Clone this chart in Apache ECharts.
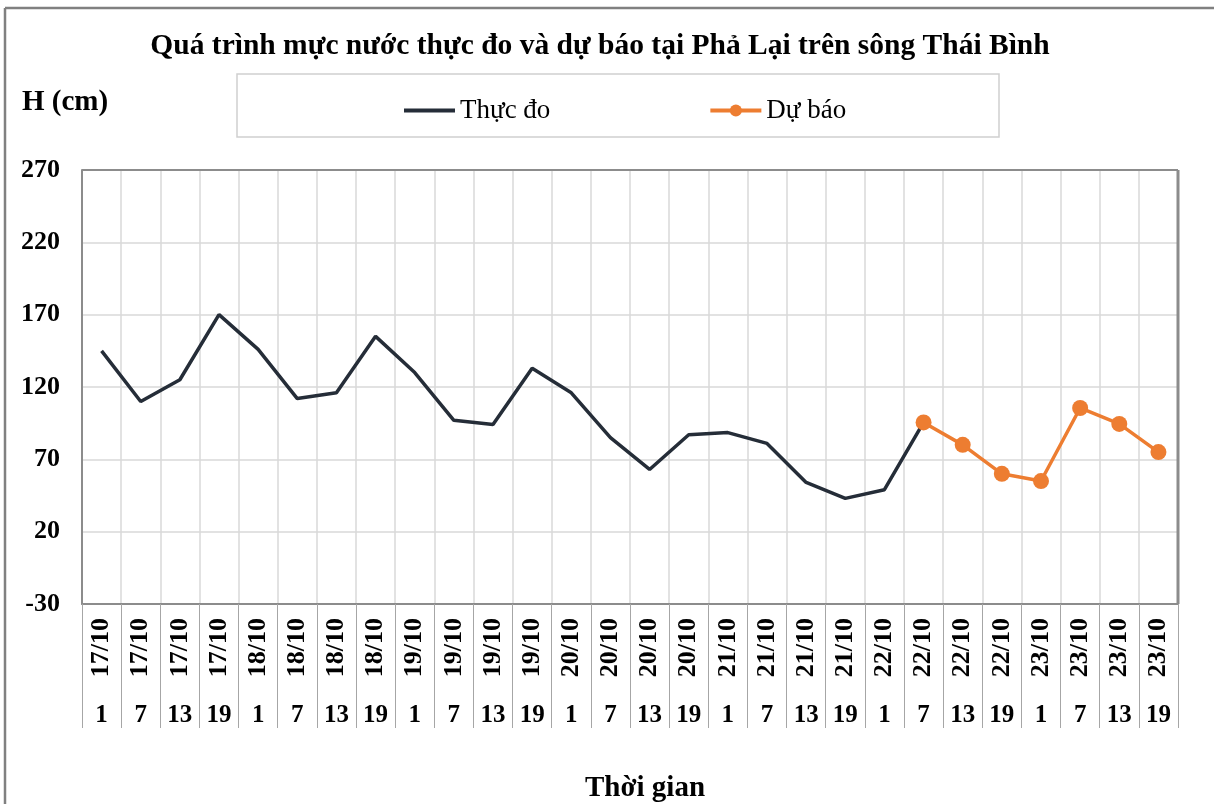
<!DOCTYPE html>
<html>
<head>
<meta charset="utf-8">
<script src="https://cdn.jsdelivr.net/npm/echarts@6/dist/echarts.min.js"></script>
<style>
html,body{margin:0;padding:0;background:#fff;}
#chart{width:1214px;height:804px;}
</style>
</head>
<body>
<div id="chart"></div>
<script>
var dates = ['17/10','17/10','17/10','17/10','18/10','18/10','18/10','18/10','19/10','19/10','19/10','19/10','20/10','20/10','20/10','20/10','21/10','21/10','21/10','21/10','22/10','22/10','22/10','22/10','23/10','23/10','23/10','23/10'];
var hours = ['1','7','13','19','1','7','13','19','1','7','13','19','1','7','13','19','1','7','13','19','1','7','13','19','1','7','13','19'];
var observed = [145,110,125,170,146,112,116,155,130,97,94,133,116,85,63,87,88.5,81,54,43,49,95.5];
var forecast = [null,null,null,null,null,null,null,null,null,null,null,null,null,null,null,null,null,null,null,null,null,95.5,80,60,55,105.5,94.5,75];
var yTicks = {min:-30, max:270, interval:50};
var titleText = 'Quá trình mực nước thực đo và dự báo tại Phả Lại trên sông Thái Bình';
var yName = 'H (cm)';
var xName = 'Thời gian';
var seriesNames = ['Thực đo','Dự báo'];

var FONT = '"Liberation Serif", "Times New Roman", serif';
var chart = echarts.init(document.getElementById('chart'));
var catKeys = dates.map(function(d,i){return i;});
chart.setOption({
  animation:false,
  backgroundColor:'#fff',
  grid:{left:82,right:36,top:170,bottom:200,containLabel:false},
  legend:{
    left:397, top:92,
    itemWidth:51, itemHeight:15, itemGap:158,
    textStyle:{fontFamily:FONT,fontSize:27,color:'#000'},
    lineStyle:{width:4},
    data:[{name:seriesNames[0],itemStyle:{opacity:0}},{name:seriesNames[1]}]
  },
  xAxis:[{
    type:'category', data:catKeys, boundaryGap:true,
    axisLine:{onZero:false,lineStyle:{color:'#8c8c8c',width:2}},
    axisTick:{show:true,interval:0,length:124,lineStyle:{color:'#a6a6a6',width:1}},
    splitLine:{show:true,interval:0,lineStyle:{color:'#d9d9d9',width:1.5}},
    axisLabel:{interval:0,rotate:90,margin:14,fontFamily:FONT,fontWeight:'bold',fontSize:26,color:'#000',
      formatter:function(v,i){return dates[i];}}
  },{
    type:'category', data:catKeys, boundaryGap:true, position:'bottom',
    axisLine:{show:false,onZero:false}, axisTick:{show:false}, splitLine:{show:false},
    axisLabel:{interval:0,margin:99,fontFamily:FONT,fontWeight:'bold',fontSize:25,color:'#000',
      formatter:function(v,i){return hours[i];}}
  }],
  yAxis:{
    type:'value', min:yTicks.min, max:yTicks.max, interval:yTicks.interval,
    axisLine:{show:true,lineStyle:{color:'#8c8c8c',width:2}},
    axisTick:{show:false},
    splitLine:{show:true,lineStyle:{color:'#d9d9d9',width:1.5}},
    axisLabel:{margin:22,fontFamily:FONT,fontWeight:'bold',fontSize:26,color:'#000'}
  },
  series:[{
    name:seriesNames[0], type:'line', data:observed, xAxisIndex:0,
    symbol:'none', showSymbol:false,
    lineStyle:{color:'#252d38',width:3.5}, itemStyle:{color:'#252d38'}
  },{
    name:seriesNames[1], type:'line', data:forecast, xAxisIndex:0,
    symbol:'circle', symbolSize:16, showSymbol:true,
    lineStyle:{color:'#ed7d31',width:3.5}, itemStyle:{color:'#ed7d31'}
  }],
  graphic:[
    {type:'line',shape:{x1:5,y1:8,x2:1214,y2:8},style:{stroke:'#808080',lineWidth:2.5}},
    {type:'line',shape:{x1:5,y1:8,x2:5,y2:804},style:{stroke:'#808080',lineWidth:2.5}},
    {type:'rect',shape:{x:237,y:74,width:762,height:63},style:{fill:'none',stroke:'#d0d0d0',lineWidth:1.5},z:-1},
    {type:'line',shape:{x1:82,y1:170,x2:1178,y2:170},style:{stroke:'#8c8c8c',lineWidth:2},z:10},
    {type:'line',shape:{x1:1178,y1:170,x2:1178,y2:604},style:{stroke:'#8c8c8c',lineWidth:3},z:10},
    {type:'text',x:600,y:46,style:{text:titleText,fontFamily:FONT,fontWeight:'bold',fontSize:29.5,fill:'#000',textAlign:'center',textVerticalAlign:'middle'}},
    {type:'text',x:22,y:103,style:{text:yName,fontFamily:FONT,fontWeight:'bold',fontSize:29,fill:'#000',textAlign:'left',textVerticalAlign:'middle'}},
    {type:'text',x:645,y:789,style:{text:xName,fontFamily:FONT,fontWeight:'bold',fontSize:29,fill:'#000',textAlign:'center',textVerticalAlign:'middle'}}
  ]
});
</script>
</body>
</html>
